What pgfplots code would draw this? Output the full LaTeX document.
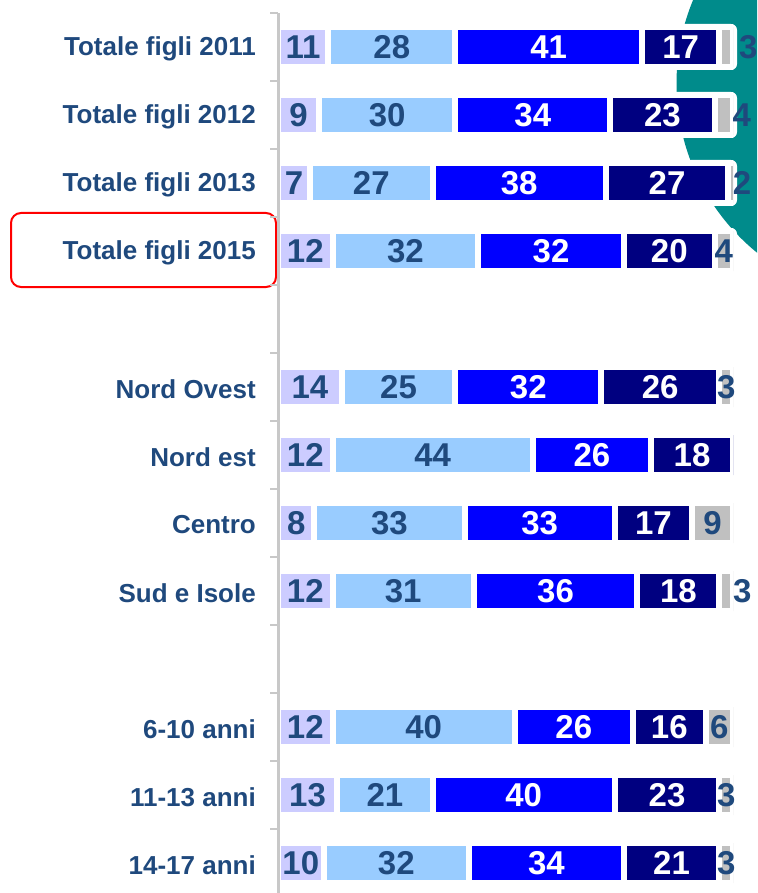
\documentclass[border=0pt]{standalone}
\usepackage{pgfplots}
\pgfplotsset{compat=1.18}
\usepackage{pgfplotstable}
\usepackage{fontspec}
\setmainfont{Liberation Sans}
\definecolor{lav}{HTML}{CCCCFF}
\definecolor{lblue}{HTML}{99CCFF}
\definecolor{mblue}{HTML}{0000FF}
\definecolor{navy}{HTML}{000080}
\definecolor{gry}{HTML}{C0C0C0}
\definecolor{txtblue}{HTML}{1F497D}
\definecolor{axgray}{HTML}{C8C8C8}
\definecolor{tealc}{HTML}{008B8B}

\pgfplotstableread{
y a b c d e dx
0 11 28 41 17 3 22
1 9 30 34 23 4 18
2 7 27 38 27 2 9
3 12 32 32 20 4 0
5 14 25 32 26 3 0
6 12 44 26 18 0 0
7 8 33 33 17 9 0
8 12 31 36 18 3 16
10 12 40 26 16 6 0
11 13 21 40 23 3 0
12 10 32 34 21 3 0
}\datatable

\pgfplotsset{
  base/.style={
    at={(278pt,-13pt)}, anchor=north west,
    scale only axis, width=455pt, height=884pt,
    xmin=0, xmax=100, ymin=-0.5, ymax=12.5, y dir=reverse,
  },
}
\begin{document}
\begin{tikzpicture}
\useasboundingbox (0,0) rectangle (757pt,-893pt);
\clip (0,0) rectangle (757pt,-893pt);
\fill[tealc] (894.5pt,-83.5pt) circle (218pt);
\foreach \yc in {47,115,183,251}{
  \fill[white, rounded corners=6pt] (600pt,{23pt-\yc pt}) rectangle (737pt,{-23pt-\yc pt});
}
\draw[red, line width=2pt, rounded corners=10pt] (11pt,-213pt) rectangle (276pt,-287pt);

\begin{axis}[base,
  xbar stacked, bar width=40pt,
  axis on top,
  axis x line=none,
  axis y line*=left,
  y axis line style={draw=axgray, line width=3pt},
  ytick={0,1,2,3,5,6,7,8,10,11,12},
  yticklabels={Totale figli 2011, Totale figli 2012, Totale figli 2013, Totale figli 2015, Nord Ovest, Nord est, Centro, Sud e Isole, 6-10 anni, 11-13 anni, 14-17 anni},
  minor ytick={-0.5,0.5,...,12.5},
  major tick length=0pt, minor tick length=8pt, tick align=outside,
  minor tick style={draw=axgray, line width=2.5pt},
  yticklabel style={anchor=east, inner sep=0pt, xshift=-22pt, yshift=-2pt, font=\fontsize{26}{27}\selectfont\bfseries, text=txtblue},
  every axis plot/.append style={draw=white, line width=6pt},
]
\addplot[fill=lav] table[x=a,y=y]{\datatable};
\addplot[fill=lblue] table[x=b,y=y]{\datatable};
\addplot[fill=mblue] table[x=c,y=y]{\datatable};
\addplot[fill=navy] table[x=d,y=y]{\datatable};
\addplot[fill=gry] table[x=e,y=y]{\datatable};
\end{axis}

\begin{axis}[base, axis lines=none, clip=false,
  /pgf/number format/assume math mode=true,
  nodes near coords={\pgfmathprintnumber{\pgfplotspointmeta}}, point meta=explicit,
  every node near coord/.append style={anchor=center, inner sep=0pt, font=\fontsize{33}{34}\selectfont\bfseries},
]
\addplot[draw=none, every node near coord/.append style={text=txtblue}] table[x expr=\thisrow{a}/2, y=y, meta=a]{\datatable};
\addplot[draw=none, every node near coord/.append style={text=txtblue}] table[x expr=\thisrow{a}+\thisrow{b}/2, y=y, meta=b]{\datatable};
\addplot[draw=none, every node near coord/.append style={text=white}] table[x expr=\thisrow{a}+\thisrow{b}+\thisrow{c}/2, y=y, meta=c]{\datatable};
\addplot[draw=none, every node near coord/.append style={text=white}] table[x expr=\thisrow{a}+\thisrow{b}+\thisrow{c}+\thisrow{d}/2, y=y, meta=d]{\datatable};
\addplot[draw=none, skip coords between index={5}{6},
  visualization depends on={\thisrow{dx} \as \dx},
  every node near coord/.append style={text=txtblue, xshift=\dx pt}] table[x expr=\thisrow{a}+\thisrow{b}+\thisrow{c}+\thisrow{d}+\thisrow{e}/2, y=y, meta=e]{\datatable};
\end{axis}
\end{tikzpicture}
\end{document}
